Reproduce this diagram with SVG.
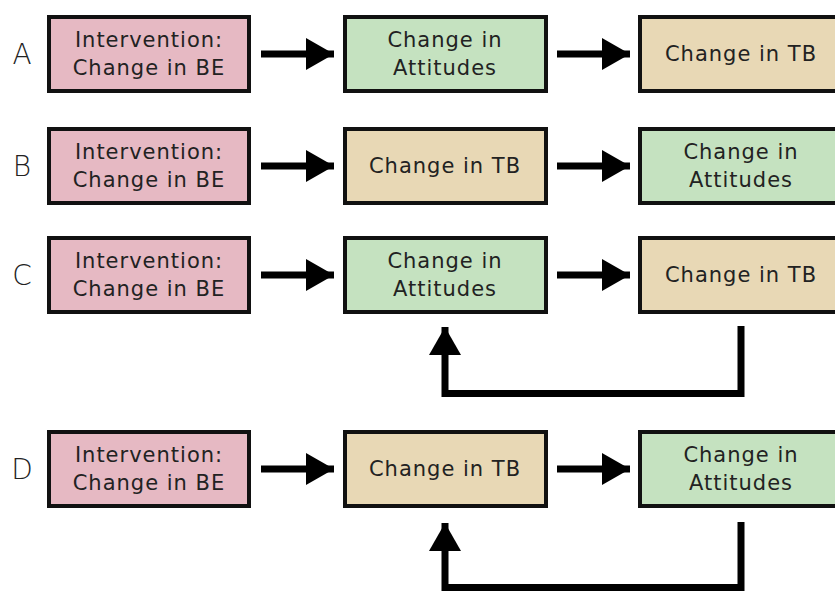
<svg xmlns="http://www.w3.org/2000/svg" width="835" height="591" viewBox="0 0 835 591">
<style>
.box{stroke:#111;stroke-width:4}
.be{fill:#E6B9C3}
.att{fill:#C5E2C0}
.tb{fill:#E8D8B5}
.t{font-family:"DejaVu Sans","Liberation Sans",sans-serif;font-size:21px;fill:#222;text-anchor:middle;letter-spacing:1px}
.lbl{font-family:"DejaVu Sans","Liberation Sans",sans-serif;font-size:28px;fill:#222;text-anchor:middle;font-weight:300}
.conn{stroke:#000;stroke-width:7;fill:none}
</style>
<defs>
<marker id="ah" markerUnits="userSpaceOnUse" markerWidth="28" markerHeight="32" refX="28" refY="16" orient="auto">
<path d="M0,0 L28,16 L0,32 z" fill="#000"/>
</marker>
</defs>

<g id="labels">
<text class="lbl" x="22" y="64">A</text>
<text class="lbl" x="22" y="176">B</text>
<text class="lbl" x="22" y="285">C</text>
<text class="lbl" x="22" y="479">D</text>
</g>

<!-- Row A -->
<g id="a1"><rect class="box be" x="49" y="17" width="200" height="74"/><text class="t" x="149" y="47">Intervention:</text><text class="t" x="149" y="75">Change in BE</text></g>
<g id="a2"><rect class="box att" x="345" y="17" width="201" height="74"/><text class="t" x="445" y="47">Change in</text><text class="t" x="445" y="75">Attitudes</text></g>
<g id="a3"><rect class="box tb" x="640" y="17" width="201" height="74"/><text class="t" x="741" y="61">Change in TB</text></g>

<!-- Row B -->
<g id="b1"><rect class="box be" x="49" y="129" width="200" height="74"/><text class="t" x="149" y="159">Intervention:</text><text class="t" x="149" y="187">Change in BE</text></g>
<g id="b2"><rect class="box tb" x="345" y="129" width="201" height="74"/><text class="t" x="445" y="173">Change in TB</text></g>
<g id="b3"><rect class="box att" x="640" y="129" width="201" height="74"/><text class="t" x="741" y="159">Change in</text><text class="t" x="741" y="187">Attitudes</text></g>

<!-- Row C -->
<g id="c1"><rect class="box be" x="49" y="238" width="200" height="74"/><text class="t" x="149" y="268">Intervention:</text><text class="t" x="149" y="296">Change in BE</text></g>
<g id="c2"><rect class="box att" x="345" y="238" width="201" height="74"/><text class="t" x="445" y="268">Change in</text><text class="t" x="445" y="296">Attitudes</text></g>
<g id="c3"><rect class="box tb" x="640" y="238" width="201" height="74"/><text class="t" x="741" y="282">Change in TB</text></g>

<!-- Row D -->
<g id="d1"><rect class="box be" x="49" y="432" width="200" height="74"/><text class="t" x="149" y="462">Intervention:</text><text class="t" x="149" y="490">Change in BE</text></g>
<g id="d2"><rect class="box tb" x="345" y="432" width="201" height="74"/><text class="t" x="445" y="476">Change in TB</text></g>
<g id="d3"><rect class="box att" x="640" y="432" width="201" height="74"/><text class="t" x="741" y="462">Change in</text><text class="t" x="741" y="490">Attitudes</text></g>

<g id="connectors">
<path class="conn" d="M261,54 H334" marker-end="url(#ah)"/>
<path class="conn" d="M557,54 H630" marker-end="url(#ah)"/>
<path class="conn" d="M261,166 H334" marker-end="url(#ah)"/>
<path class="conn" d="M557,166 H630" marker-end="url(#ah)"/>
<path class="conn" d="M261,275 H334" marker-end="url(#ah)"/>
<path class="conn" d="M557,275 H630" marker-end="url(#ah)"/>
<path class="conn" d="M261,469 H334" marker-end="url(#ah)"/>
<path class="conn" d="M557,469 H630" marker-end="url(#ah)"/>
<path class="conn" d="M741,326 V393.5 H445 V327" marker-end="url(#ah)"/>
<path class="conn" d="M741,522 V587.5 H445 V523" marker-end="url(#ah)"/>
</g>
</svg>
